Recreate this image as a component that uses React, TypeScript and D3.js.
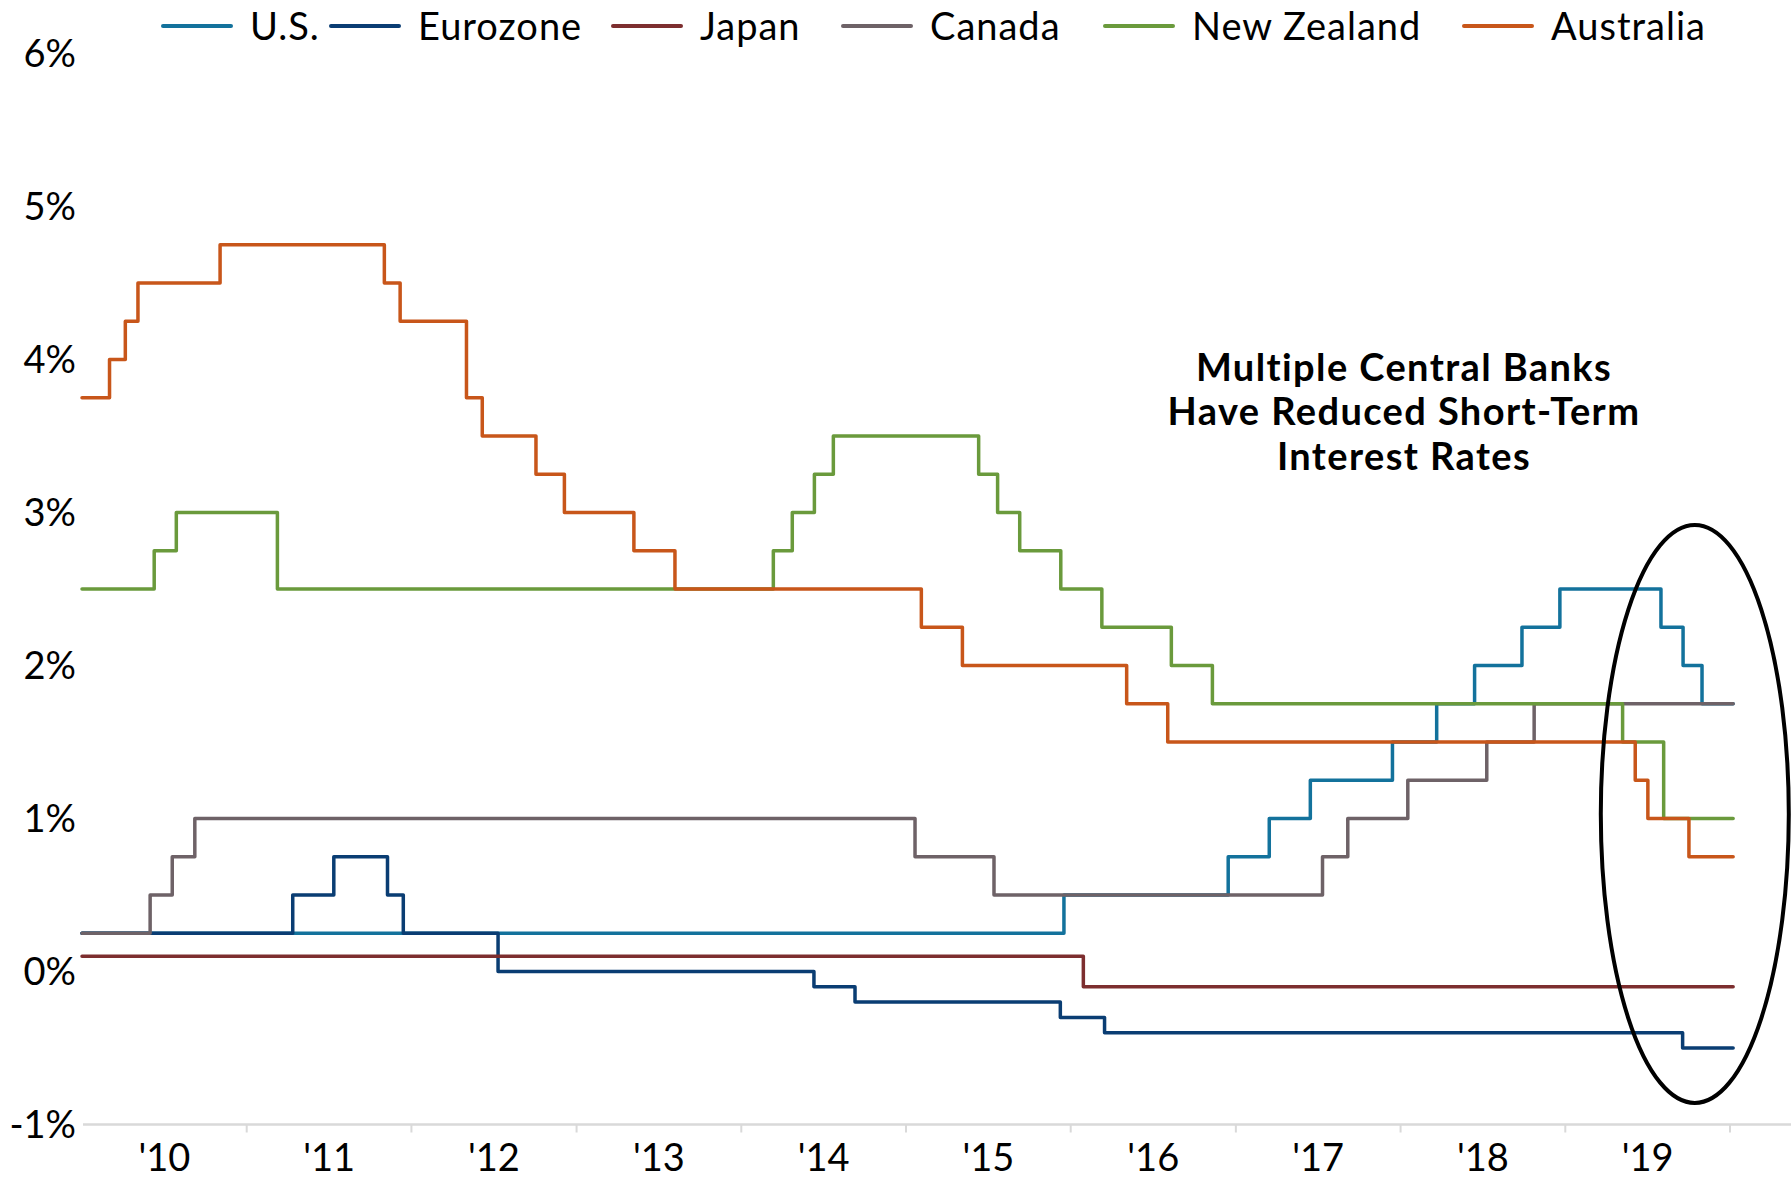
import React from "react";
import * as d3 from "d3";

type Pt = [string, number];

const SERIES_NAMES = ["U.S.", "Eurozone", "Japan", "Canada", "New Zealand", "Australia"];
const SERIES_COLORS = ["#13729c", "#0a3d73", "#7d2e2f", "#6e6267", "#6a9a3c", "#c8561a"];

const US: Pt[] = [
  ["2010-01-01", 0.25], ["2015-12-17", 0.5], ["2016-12-15", 0.75], ["2017-03-16", 1.0],
  ["2017-06-15", 1.25], ["2017-12-14", 1.5], ["2018-03-22", 1.75], ["2018-06-14", 2.0],
  ["2018-09-27", 2.25], ["2018-12-20", 2.5], ["2019-08-01", 2.25], ["2019-09-19", 2.0],
  ["2019-10-31", 1.75],
];
const EUROZONE: Pt[] = [
  ["2010-01-01", 0.25], ["2011-04-13", 0.5], ["2011-07-13", 0.75], ["2011-11-09", 0.5],
  ["2011-12-14", 0.25], ["2012-07-11", 0.0], ["2014-06-11", -0.1], ["2014-09-10", -0.2],
  ["2015-12-09", -0.3], ["2016-03-16", -0.4], ["2019-09-18", -0.5],
];
const JAPAN: Pt[] = [["2010-01-01", 0.1], ["2016-01-29", -0.1]];
const CANADA: Pt[] = [
  ["2010-01-01", 0.25], ["2010-06-01", 0.5], ["2010-07-20", 0.75], ["2010-09-08", 1.0],
  ["2015-01-21", 0.75], ["2015-07-15", 0.5], ["2017-07-12", 0.75], ["2017-09-06", 1.0],
  ["2018-01-17", 1.25], ["2018-07-11", 1.5], ["2018-10-24", 1.75],
];
const NEW_ZEALAND: Pt[] = [
  ["2010-01-01", 2.5], ["2010-06-10", 2.75], ["2010-07-29", 3.0], ["2011-03-10", 2.5],
  ["2014-03-13", 2.75], ["2014-04-24", 3.0], ["2014-06-12", 3.25], ["2014-07-24", 3.5],
  ["2015-06-11", 3.25], ["2015-07-23", 3.0], ["2015-09-10", 2.75], ["2015-12-10", 2.5],
  ["2016-03-10", 2.25], ["2016-08-11", 2.0], ["2016-11-10", 1.75], ["2019-05-08", 1.5],
  ["2019-08-07", 1.0],
];
const AUSTRALIA: Pt[] = [
  ["2010-01-01", 3.75], ["2010-03-03", 4.0], ["2010-04-07", 4.25], ["2010-05-05", 4.5],
  ["2010-11-03", 4.75], ["2011-11-02", 4.5], ["2011-12-07", 4.25], ["2012-05-02", 3.75],
  ["2012-06-06", 3.5], ["2012-10-03", 3.25], ["2012-12-05", 3.0], ["2013-05-08", 2.75],
  ["2013-08-07", 2.5], ["2015-02-04", 2.25], ["2015-05-06", 2.0], ["2016-05-04", 1.75],
  ["2016-08-03", 1.5], ["2019-06-05", 1.25], ["2019-07-03", 1.0], ["2019-10-02", 0.75],
];
const SERIES: Pt[][] = [US, EUROZONE, JAPAN, CANADA, NEW_ZEALAND, AUSTRALIA];
const END_DATE = "2020-01-08";

const Y_TICKS = [-1, 0, 1, 2, 3, 4, 5, 6];
const X_YEARS = [2010, 2011, 2012, 2013, 2014, 2015, 2016, 2017, 2018, 2019];
const ANNOTATION = ["Multiple Central Banks", "Have Reduced Short-Term", "Interest Rates"];

const W = 1791;
const H = 1180;
const FONT = "Lato, 'Open Sans', sans-serif";
const parse = d3.utcParse("%Y-%m-%d");

export default function App() {
  const x = d3
    .scaleUtc()
    .domain([Date.UTC(2010, 0, 1), Date.UTC(2020, 0, 1)])
    .range([82, 1730]);
  const y = d3.scaleLinear().domain([-1, 6]).range([1124.5, 53.5]);

  const line = d3
    .line<{ d: Date; v: number }>()
    .x((p) => x(p.d))
    .y((p) => y(p.v))
    .curve(d3.curveStepAfter);

  const paths = SERIES.map((s) => {
    const pts = s.map(([d, v]) => ({ d: parse(d) as Date, v }));
    pts.push({ d: parse(END_DATE) as Date, v: s[s.length - 1][1] });
    return line(pts) || "";
  });

  const legendX = [163, 331, 613, 843, 1105, 1464];
  const axisY = y(-1);

  return (
    <svg
      width={W}
      height={H}
      style={{ position: "absolute", left: 0, top: 0, background: "#fff" }}
      fontFamily={FONT}
    >
      <rect x={0} y={0} width={W} height={H} fill="#fff" />
      {/* legend */}
      {SERIES_NAMES.map((n, i) => (
        <g key={n} transform={`translate(${legendX[i]},26)`}>
          <line x1={0} x2={68} y1={0} y2={0} stroke={SERIES_COLORS[i]} strokeWidth={4} strokeLinecap="round" />
          <text x={87} y={0} dy="0.36em" fontSize={38} letterSpacing={1} fill="#000">
            {n}
          </text>
        </g>
      ))}
      {/* y labels */}
      {Y_TICKS.map((t) => (
        <text key={t} x={76} y={y(t)} dy="0.36em" textAnchor="end" fontSize={38} fill="#000">
          {`${t}%`}
        </text>
      ))}
      {/* x axis */}
      <line x1={83} x2={W} y1={axisY} y2={axisY} stroke="#d9d9d9" strokeWidth={2.5} />
      {X_YEARS.map((yr) => {
        const tx = x(Date.UTC(yr + 1, 0, 1));
        const mid = (x(Date.UTC(yr, 0, 1)) + tx) / 2;
        return (
          <g key={yr}>
            <line x1={tx} x2={tx} y1={axisY} y2={axisY + 8} stroke="#d9d9d9" strokeWidth={2} />
            <text x={mid} y={axisY + 33} dy="0.36em" textAnchor="middle" fontSize={38} fill="#000">
              {`'${String(yr).slice(2)}`}
            </text>
          </g>
        );
      })}
      {/* series */}
      {paths.map((p, i) => (
        <path
          key={i}
          d={p}
          fill="none"
          stroke={SERIES_COLORS[i]}
          strokeWidth={3.5}
          strokeLinecap="round"
          strokeLinejoin="round"
        />
      ))}
      {/* annotation */}
      {ANNOTATION.map((t, i) => (
        <text
          key={t}
          x={1404}
          y={367 + i * 44.5}
          dy="0.36em"
          textAnchor="middle"
          fontSize={38}
          letterSpacing={1.4}
          fontWeight="bold"
          fill="#000"
        >
          {t}
        </text>
      ))}
      <ellipse
        cx={x(Date.UTC(2019, 9, 15))}
        cy={y(1.03)}
        rx={94}
        ry={289}
        fill="none"
        stroke="#000"
        strokeWidth={4}
      />
    </svg>
  );
}
